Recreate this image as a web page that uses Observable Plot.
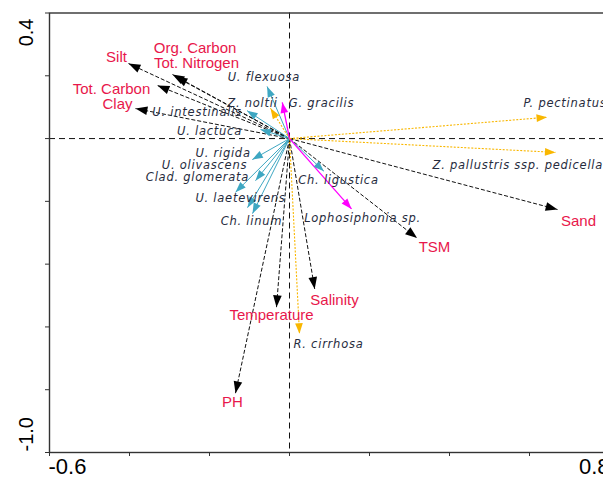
<!DOCTYPE html>
<html><head><meta charset="utf-8">
<script src="https://cdn.jsdelivr.net/npm/d3@7"></script>
<script src="https://cdn.jsdelivr.net/npm/@observablehq/plot@0.6"></script>
<style>
html,body{margin:0;padding:0;background:#fff;overflow:hidden;}
#chart{width:603px;height:478px;overflow:hidden;}
#chart svg{max-width:none !important;}
</style></head><body><div id="chart"></div>
<script>
// Environmental variables (arrow tips, label positions)
const envNames  = ["Silt","Org. Carbon","Tot. Nitrogen","Tot. Carbon","Clay","Sand","TSM","Salinity","Temperature","PH"];
const envX      = [-0.4025,-0.2925,-0.285,-0.33,-0.385,0.67,0.319,0.063,-0.0325,-0.135];
const envY      = [0.239,0.204,0.197,0.169,0.0955,-0.226,-0.317,-0.479,-0.537,-0.811];
const envLabelX = [-0.4325,-0.236,-0.2325,-0.445,-0.43,0.7225,0.3625,0.1125,-0.045,-0.1425];
const envLabelY = [0.258,0.287,0.239,0.156,0.108,-0.264,-0.347,-0.516,-0.564,-0.841];

// Species
const spNames = ["U. flexuosa","Z. noltii","G. gracilis","U. intestinalis","U. lactuca","U. rigida","U. olivascens","Clad. glomerata","U. laetevirens","Ch. linum","Ch. ligustica","Lophosiphonia sp.","P. pectinatus","Z. pallustris ssp. pedicellata","R. cirrhosa"];
const spGroup = ["Chlorophyta","Angiosperm","Rhodophyta","Chlorophyta","Chlorophyta","Chlorophyta","Chlorophyta","Chlorophyta","Chlorophyta","Chlorophyta","Chlorophyta","Rhodophyta","Angiosperm","Angiosperm","Angiosperm"];
const spX = [-0.056,-0.0475,-0.018,-0.106,-0.0725,-0.093,-0.085,-0.135,-0.105,-0.0925,0.086,0.155,0.644,0.665,0.025];
const spY = [0.166,0.0965,0.115,0.089,0.029,-0.067,-0.134,-0.171,-0.22,-0.239,-0.104,-0.224,0.068,-0.044,-0.622];
const spLabelX = [-0.064,-0.0925,0.08,-0.231,-0.2,-0.166,-0.2125,-0.23,-0.1225,-0.095,0.1225,0.1825,0.585,0.3575,0.0975];
const spLabelY = [0.194,0.113,0.111,0.083,0.022,-0.048,-0.086,-0.124,-0.191,-0.264,-0.134,-0.255,0.111,-0.086,-0.656];
const spLabelAnchor = ["middle","middle","middle","middle","middle","middle","middle","middle","middle","middle","middle","middle","start","start","middle"];

const xDomain = [-0.6, 0.8];
const yDomain = [-1.0, 0.4];
const xTicks = [-0.6,-0.4,-0.2,0,0.2,0.4,0.6,0.8];
const yTicks = [0.4,0.2,0,-0.2,-0.4,-0.6,-0.8,-1.0];
const xTickLabels = [-0.6, 0.8];
const yTickLabels = [0.4, -1.0];

// layout
const W = 612, H = 478, mL = 49, mR = 3, mT = 12.5, mB = 26;
const kx = (W - mL - mR) / (xDomain[1] - xDomain[0]);
const ky = (H - mT - mB) / (yDomain[1] - yDomain[0]);
const angle = (dx, dy) => Math.atan2(dx * kx, dy * ky) * 180 / Math.PI;

const colors = {Chlorophyta: "#3ea7c2", Rhodophyta: "#ff00ff", Angiosperm: "#f9b700"};

const env = envNames.map((name, i) => ({name, x: envX[i], y: envY[i], lx: envLabelX[i], ly: envLabelY[i], rot: angle(envX[i], envY[i])}));
const sp = spNames.map((name, i) => ({name, group: spGroup[i], x: spX[i], y: spY[i], lx: spLabelX[i], ly: spLabelY[i], anchor: spLabelAnchor[i], rot: angle(spX[i], spY[i])}));

const head = {
  draw(ctx, size) {
    const r = Math.sqrt(size / Math.PI);
    const L = r * 2.2, w = r * 0.8;
    ctx.moveTo(0, 0); ctx.lineTo(-w, L); ctx.lineTo(w, L); ctx.closePath();
  }
};

const zero = () => 0;
const linkOpts = (group, extra) => Object.assign({x1: zero, y1: zero, x2: "x", y2: "y", stroke: colors[group], filter: d => d.group === group}, extra);
const spText = {fill: "#262b3d", fontSize: 11.5, fontStyle: "italic", fontFamily: "DejaVu Sans, sans-serif"};
const tickText = {fill: "#000", fontFamily: "Liberation Sans, Arial, sans-serif"};

const plot = Plot.plot({
  width: W, height: H,
  marginLeft: mL, marginRight: mR, marginTop: mT, marginBottom: mB,
  x: {domain: xDomain, axis: null},
  y: {domain: yDomain, axis: null},
  style: {background: "#fff", maxWidth: "none"},
  marks: [
    Plot.ruleX([0], {stroke: "#111", strokeWidth: 1, strokeDasharray: "6,4"}),
    Plot.ruleY([0], {stroke: "#111", strokeWidth: 1, strokeDasharray: "6,4"}),
    Plot.link(env, {x1: zero, y1: zero, x2: "x", y2: "y", stroke: "#111", strokeWidth: 1, strokeDasharray: "4,2"}),
    Plot.link(sp, linkOpts("Chlorophyta", {strokeWidth: 1})),
    Plot.link(sp, linkOpts("Angiosperm", {strokeWidth: 1.1, strokeDasharray: "2,1.5"})),
    Plot.link(sp, linkOpts("Rhodophyta", {strokeWidth: 1.3})),
    Plot.dot(env, {x: "x", y: "y", symbol: head, r: 5.4, rotate: "rot", fill: "#000", stroke: "none"}),
    Plot.dot(sp, {x: "x", y: "y", symbol: head, r: 4.8, rotate: "rot", fill: d => colors[d.group], stroke: "none"}),
    Plot.text(env, {x: "lx", y: "ly", text: "name", fill: "#e8174b", fontSize: 15, fontFamily: "Liberation Sans, Arial, sans-serif"}),
    Plot.text(sp, {x: "lx", y: "ly", text: "name", textAnchor: "middle", filter: d => d.anchor === "middle", ...spText}),
    Plot.text(sp, {x: "lx", y: "ly", text: "name", textAnchor: "start", filter: d => d.anchor === "start", ...spText}),
    Plot.frame({stroke: "#333", strokeWidth: 1.4}),
    Plot.axisX({ticks: xTicks, tickSize: 4, tickFormat: () => "", stroke: "#333", label: null}),
    Plot.axisY({ticks: yTicks, tickSize: 4, tickFormat: () => "", stroke: "#333", label: null}),
    Plot.text(xTickLabels.slice(0,1), {x: d => d, frameAnchor: "bottom", textAnchor: "start", dy: 21, dx: -1, text: d => d.toFixed(1), fontSize: 22, ...tickText}),
    Plot.text(xTickLabels.slice(1), {x: d => d, frameAnchor: "bottom", textAnchor: "end", dy: 21, text: d => d.toFixed(1), fontSize: 22, ...tickText}),
    Plot.text(yTickLabels.slice(0,1), {y: d => d, frameAnchor: "left", textAnchor: "end", rotate: -90, dx: -23, dy: 5.5, text: d => d.toFixed(1), fontSize: 20, ...tickText}),
    Plot.text(yTickLabels.slice(1), {y: d => d, frameAnchor: "left", textAnchor: "start", rotate: -90, dx: -23, dy: -1, text: d => d.toFixed(1), fontSize: 20, ...tickText})
  ]
});
plot.querySelectorAll('g[font-style="italic"]').forEach(g => g.setAttribute("letter-spacing", "0.75"));
document.getElementById("chart").appendChild(plot);
</script>
</body></html>
